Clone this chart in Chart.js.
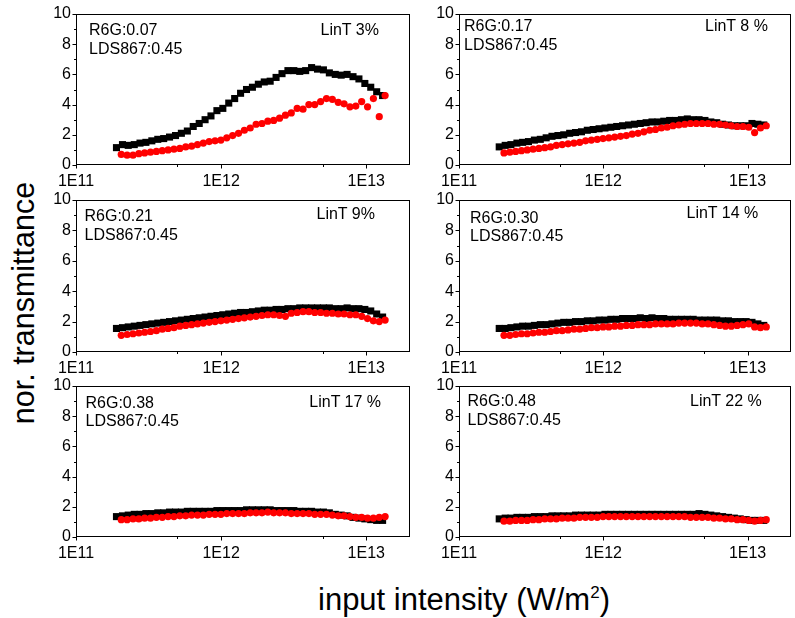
<!DOCTYPE html>
<html>
<head>
<meta charset="utf-8">
<script src="https://cdn.jsdelivr.net/npm/chart.js@4.4.1/dist/chart.umd.min.js"></script>
<style>
  body { margin: 0; width: 795px; height: 618px; background: #fff; overflow: hidden; position: relative;
         font-family: "Liberation Sans", Arial, sans-serif; color: #000; }
  canvas { position: absolute; }
  .ann { position: absolute; font-size: 16px; line-height: 18.5px; white-space: nowrap; }
  #ytitle { position: absolute; left: 22.7px; top: 302.5px; font-size: 30.5px; line-height: 30.5px; white-space: nowrap;
            transform: translate(-50%, -50%) rotate(-90deg); }
  #xtitle { position: absolute; left: 318px; top: 584px; font-size: 31px; line-height: 31px; white-space: nowrap; }
  #xtitle span { font-size: 17px; position: relative; top: -12px; }
</style>
</head>
<body>
<div id="ytitle">nor. transmittance</div>
<div id="xtitle">input intensity (W/m<span>2</span>)</div>

<script>
// intensities in units of 1E11 W/m^2
const UNIT = 1e11;
const xBlack = [1.90,2.09,2.29,2.52,2.76,3.03,3.33,3.66,4.02,4.41,4.85,5.32,5.85,6.42,7.06,7.75,8.51,9.35,10.27,11.28,
  12.39,13.61,14.95,16.42,18.04,19.81,21.76,23.90,26.26,28.84,31.68,34.80,38.22,41.98,46.11,50.65,55.64,61.11,67.13,73.73,
  80.99,88.96,97.72,107.3,117.9,129.5];
const xRed = [2.05,2.25,2.47,2.71,2.97,3.26,3.58,3.93,4.31,4.73,5.19,5.70,6.26,6.87,7.54,8.27,9.08,9.96,10.93,12.00,
  13.17,14.45,15.86,17.41,19.11,20.97,23.01,25.26,27.72,30.42,33.39,36.65,40.22,44.14,48.44,53.17,58.35,64.04,70.28,77.14,
  84.66,92.91,101.97,111.9,122.8,134.8];

const black1 = [1.15,1.35,1.3,1.35,1.45,1.5,1.6,1.7,1.75,1.85, 1.95,2.1,2.25,2.55,2.75,3.0,3.25,3.6,3.75,4.1,
  4.4,4.75,5.0,5.15,5.35,5.5,5.55,5.8,6.05,6.25, 6.25,6.2,6.25,6.45,6.35,6.3,6.1,6.0,5.95,6.0, 5.85,5.7,5.4,5.15,4.85,4.6];
const red1 = [0.7,0.65,0.65,0.75,0.8,0.85,0.9,0.95,1.0,1.05, 1.1,1.2,1.25,1.35,1.45,1.55,1.6,1.65,1.8,1.95,
  2.1,2.3,2.45,2.7,2.75,2.9,2.95,3.1,3.3,3.45, 3.75,3.7,4.0,4.0,4.2,4.4,4.35,4.15,4.05,3.85, 3.9,4.2,3.85,4.4,3.2,4.6];

const black2 = [1.2,1.3,1.35,1.45,1.5,1.55,1.65,1.7,1.8,1.9, 1.95,2.0,2.1,2.15,2.2,2.3,2.35,2.4,2.45,2.5,
  2.55,2.6,2.65,2.7,2.75,2.8,2.85,2.85,2.9,2.95, 2.95,3.0,3.05,3.0,3.0,2.95,2.85,2.8,2.7,2.65, 2.6,2.6,2.6,2.75,2.7,2.65];
const red2 = [0.8,0.85,0.9,0.95,1.0,1.05,1.1,1.15,1.2,1.3, 1.35,1.4,1.45,1.5,1.6,1.65,1.7,1.75,1.8,1.85,
  1.9,1.95,2.05,2.1,2.2,2.3,2.35,2.45,2.5,2.6, 2.65,2.7,2.75,2.75,2.75,2.75,2.7,2.7,2.65,2.6, 2.55,2.55,2.5,2.15,2.45,2.6];

const black3 = [1.55,1.6,1.65,1.7,1.75,1.8,1.85,1.9,1.95,2.0, 2.05,2.1,2.15,2.2,2.25,2.3,2.35,2.4,2.45,2.5,
  2.55,2.6,2.6,2.65,2.7,2.75,2.75,2.8,2.8,2.85, 2.85,2.9,2.9,2.9,2.9,2.9,2.9,2.85,2.85,2.9, 2.85,2.85,2.8,2.7,2.5,2.3];
const red3 = [1.1,1.15,1.2,1.25,1.3,1.35,1.4,1.5,1.55,1.6, 1.7,1.75,1.8,1.85,1.9,1.95,2.0,2.05,2.1,2.15,
  2.2,2.25,2.3,2.35,2.4,2.45,2.45,2.4,2.35,2.55, 2.6,2.65,2.65,2.6,2.6,2.55,2.55,2.5,2.5,2.45, 2.45,2.35,2.2,2.05,2.0,2.1];

const black4 = [1.55,1.55,1.6,1.65,1.7,1.7,1.75,1.8,1.8,1.85, 1.9,1.95,1.95,2.0,2.0,2.05,2.05,2.1,2.1,2.15,
  2.15,2.2,2.2,2.2,2.25,2.2,2.25,2.2,2.2,2.15, 2.15,2.15,2.15,2.15,2.1,2.1,2.1,2.1,2.05,2.05, 2.0,2.0,2.0,1.95,1.85,1.75];
const red4 = [1.1,1.1,1.15,1.2,1.2,1.25,1.3,1.3,1.35,1.4, 1.4,1.45,1.5,1.5,1.55,1.6,1.6,1.65,1.65,1.7,
  1.7,1.75,1.75,1.8,1.8,1.8,1.85,1.85,1.85,1.85, 1.9,1.9,1.9,1.9,1.85,1.85,1.8,1.75,1.7,1.7, 1.75,1.8,1.85,1.65,1.6,1.65];

const black5 = [1.35,1.4,1.45,1.5,1.5,1.55,1.55,1.6,1.6,1.65, 1.65,1.65,1.7,1.7,1.7,1.7,1.7,1.75,1.75,1.75,
  1.75,1.75,1.8,1.8,1.8,1.8,1.8,1.75,1.75,1.75, 1.75,1.7,1.7,1.7,1.65,1.65,1.6,1.5,1.45,1.4, 1.3,1.25,1.2,1.15,1.1,1.1];
const red5 = [1.15,1.15,1.2,1.2,1.25,1.25,1.3,1.3,1.35,1.35, 1.4,1.4,1.45,1.45,1.45,1.5,1.5,1.5,1.55,1.55,
  1.55,1.55,1.6,1.6,1.6,1.65,1.6,1.6,1.6,1.55, 1.55,1.55,1.55,1.5,1.5,1.5,1.45,1.4,1.4,1.35, 1.3,1.3,1.25,1.25,1.3,1.35];

const black6 = [1.2,1.25,1.25,1.3,1.3,1.3,1.35,1.35,1.35,1.4, 1.4,1.4,1.4,1.45,1.45,1.45,1.45,1.45,1.5,1.5,
  1.5,1.5,1.5,1.5,1.5,1.5,1.5,1.5,1.5,1.5, 1.5,1.5,1.5,1.5,1.55,1.5,1.45,1.4,1.35,1.3, 1.25,1.2,1.15,1.1,1.1,1.1];
const red6 = [1.05,1.05,1.1,1.1,1.1,1.15,1.15,1.2,1.2,1.2, 1.25,1.25,1.25,1.3,1.3,1.3,1.3,1.35,1.35,1.35,
  1.35,1.35,1.35,1.35,1.35,1.35,1.35,1.35,1.35,1.35, 1.35,1.35,1.3,1.3,1.3,1.3,1.25,1.25,1.2,1.2, 1.15,1.15,1.1,1.05,1.1,1.15];

const r6g = ['0.07', '0.17', '0.21', '0.30', '0.38', '0.48'];
const lds867 = '0.45';
const linT = ['3%', '8 %', '9%', '14 %', '17 %', '22 %'];

const xTickValues = [1e11, 1e12, 1e13];
const xTickLabels = ['1E11', '1E12', '1E13'];
const xMinor = [5e11, 5e12];
const yTickValues = [0, 2, 4, 6, 8, 10];
const yTickLabels = ['0', '2', '4', '6', '8', '10'];
const yMinor = [1, 3, 5, 7, 9];

const blacks = [black1, black2, black3, black4, black5, black6];
const reds = [red1, red2, red3, red4, red5, red6];

// plot areas of the six panels and where the labels sit
const areas = [
  { l: 76, t: 14, r: 412, b: 165 }, { l: 459, t: 14, r: 793, b: 165 },
  { l: 76, t: 200, r: 412, b: 352 }, { l: 459, t: 200, r: 793, b: 352 },
  { l: 76, t: 386, r: 412, b: 537 }, { l: 459, t: 386, r: 793, b: 537 }
];
const annPos = [
  { x: 89, y: 35.7, lx: 320.5, ly: 35.7 }, { x: 464, y: 31.7, lx: 705, ly: 31.7 },
  { x: 84.5, y: 221.7, lx: 316.5, ly: 219.3 }, { x: 470, y: 223.3, lx: 686.5, ly: 218.3 },
  { x: 85.5, y: 408.3, lx: 309.3, ly: 407.3 }, { x: 467.5, y: 406.7, lx: 690, ly: 406.7 }
];

const PAD_T = 12, PAD_R = 3, Y_W = 46, X_H = 28;

// box around the plot area plus outward major/minor tick marks
const framePlugin = {
  id: 'frame',
  afterDraw(chart) {
    const { ctx, chartArea: a, scales } = chart;
    const L = Math.round(a.left) + 0.5, T = Math.round(a.top) + 0.5;
    const R = Math.round(a.right) - 0.5, B = Math.round(a.bottom) - 0.5;
    ctx.save();
    ctx.strokeStyle = '#000';
    ctx.lineWidth = 1;
    ctx.strokeRect(L, T, R - L, B - T);
    ctx.beginPath();
    const yTick = (v, len) => {
      const y = Math.round(scales.y.getPixelForValue(v)) + 0.5;
      ctx.moveTo(L - len, y); ctx.lineTo(L, y);
    };
    const xTick = (v, len) => {
      const x = Math.round(scales.x.getPixelForValue(v)) + 0.5;
      ctx.moveTo(x, B); ctx.lineTo(x, B + len);
    };
    yTickValues.forEach(v => yTick(v, 4));
    yMinor.forEach(v => yTick(v, 2.5));
    xTickValues.forEach(v => xTick(v, 4));
    xMinor.forEach(v => xTick(v, 2.5));
    ctx.stroke();
    ctx.restore();
  }
};

Chart.defaults.color = '#000';
Chart.defaults.font.family = '"Liberation Sans", Arial, sans-serif';

areas.forEach((a, i) => {
  const cv = document.createElement('canvas');
  cv.width = Y_W + (a.r - a.l) + PAD_R;
  cv.height = PAD_T + (a.b - a.t) + X_H;
  cv.style.left = (a.l - Y_W) + 'px';
  cv.style.top = (a.t - PAD_T) + 'px';
  document.body.appendChild(cv);

  new Chart(cv, {
    type: 'scatter',
    data: {
      datasets: [
        {
          data: xBlack.map((x, k) => ({ x: x * UNIT, y: blacks[i][k] })),
          pointStyle: 'rect', pointRadius: 5, pointHoverRadius: 5,
          backgroundColor: '#000', borderColor: '#000', borderWidth: 0, order: 2
        },
        {
          data: xRed.map((x, k) => ({ x: x * UNIT, y: reds[i][k] })),
          pointStyle: 'circle', pointRadius: 3.6, pointHoverRadius: 3.6,
          backgroundColor: '#ff0000', borderColor: '#ff0000', borderWidth: 0, order: 1
        }
      ]
    },
    options: {
      responsive: false,
      animation: false,
      events: [],
      layout: { padding: { top: PAD_T, right: PAD_R, left: 0, bottom: 0 } },
      plugins: { legend: { display: false }, tooltip: { enabled: false } },
      scales: {
        x: {
          type: 'logarithmic', min: 1e11, max: 2e13,
          afterBuildTicks: s => { s.ticks = xTickValues.map(v => ({ value: v })); },
          afterFit: s => { s.height = X_H; },
          ticks: { callback: (v, k) => xTickLabels[k], font: { size: 16 }, padding: 3, maxRotation: 0, autoSkip: false },
          grid: { display: false, tickLength: 4 },
          border: { display: false }
        },
        y: {
          min: 0, max: 10,
          afterBuildTicks: s => { s.ticks = yTickValues.map(v => ({ value: v })); },
          afterFit: s => { s.width = Y_W; },
          ticks: { callback: (v, k) => yTickLabels[k], font: { size: 16 }, padding: 1 },
          grid: { display: false, tickLength: 4 },
          border: { display: false }
        }
      }
    },
    plugins: [framePlugin]
  });

  const p = annPos[i];
  const left = document.createElement('div');
  left.className = 'ann';
  left.style.left = p.x + 'px';
  left.style.top = (p.y - 14.5) + 'px';
  left.innerHTML = 'R6G:' + r6g[i] + '<br>LDS867:' + lds867;
  document.body.appendChild(left);

  const right = document.createElement('div');
  right.className = 'ann';
  right.style.left = p.lx + 'px';
  right.style.top = (p.ly - 14.5) + 'px';
  right.textContent = 'LinT ' + linT[i];
  document.body.appendChild(right);
});
</script>
</body>
</html>
